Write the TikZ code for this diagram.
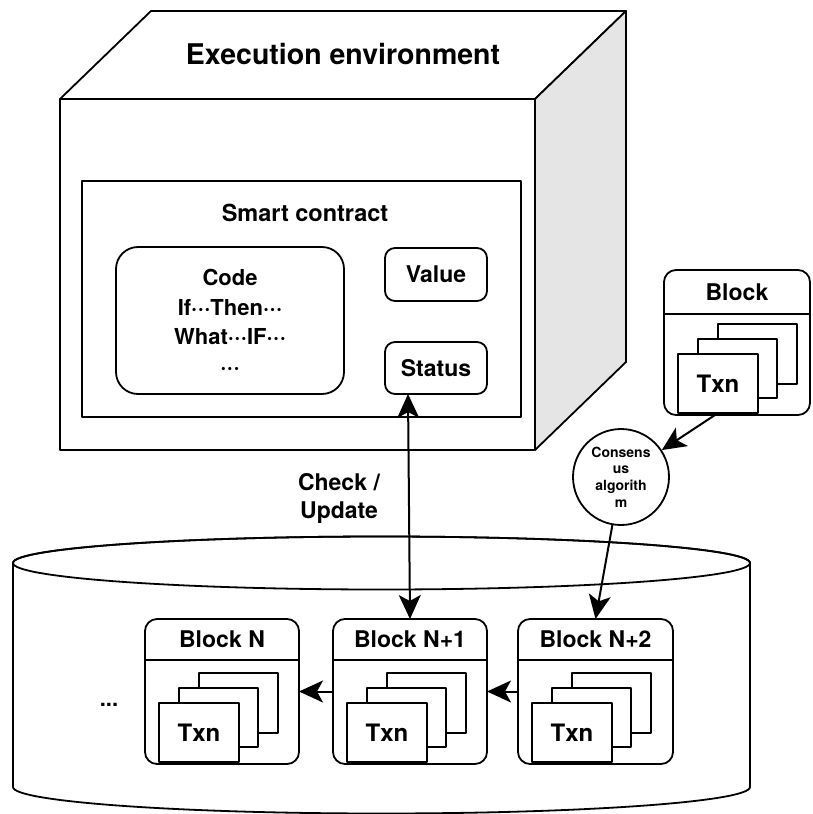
\documentclass[tikz,border=0pt]{standalone}
\usepackage{fontspec}
\setmainfont{TeX Gyre Heros}
\usetikzlibrary{arrows.meta,calc}

% three raised dots
\newcommand\tdots{·\kern0.02em·\kern0.02em·}

\tikzset{
  ln/.style={line width=1.8pt, draw=black, line join=round},
  box/.style={ln, fill=white, inner sep=0pt, outer sep=0pt},
  lbl/.style={font=\fontsize{22}{29.5}\selectfont\bfseries, align=center, inner sep=0pt},
  txn/.style={box, minimum width=79pt, minimum height=59pt, anchor=north west},
  conn/.style={line width=2pt, -{Stealth[length=24pt,width=22pt,inset=6pt]}},
  connboth/.style={line width=2pt,
    {Stealth[length=24pt,width=22pt,inset=6pt]}-{Stealth[length=24pt,width=22pt,inset=6pt]}},
}

% a block with a title bar and a stack of transactions
% #1 name, #2 x, #3 y, #4 title, #5 width, #6 title bar height
\newcommand\chainblock[6]{%
  \begin{scope}[shift={(#2,#3)}]
    \node[box, rounded corners=12pt, minimum width=#5pt, minimum height=145pt,
          anchor=north west] (#1) at (0,0) {};
    \draw[ln] (0,#6) -- (#5,#6);
    \node[lbl, font=\fontsize{23}{28}\selectfont\bfseries] (#1-title) at ({#5/2},{#6/2}) {#4};
    \node[txn, minimum height=60pt] (#1-t3) at (54,54) {};
    \node[txn] (#1-t2) at (34,69) {};
    \node[txn, minimum width=80pt, lbl, font=\fontsize{24}{28}\selectfont\bfseries]
          (#1-t1) at (14,84) {Txn};
  \end{scope}}

\begin{document}
\begin{tikzpicture}[x=1pt,y=-1pt]
\useasboundingbox (0,0) rectangle (812,814);

% execution environment: a box drawn in perspective
\draw[ln, fill=white] (60,99) -- (151,11) -- (626,11) -- (535,99) -- cycle;
\draw[ln, fill=black!10] (535,99) -- (626,11) -- (626,362) -- (535,450) -- cycle;
\node[box, minimum width=475pt, minimum height=351pt, anchor=north west] (env) at (60,99) {};
\node[lbl, font=\fontsize{28.5}{32}\selectfont\bfseries] (envtitle) at (343,54) {Execution environment};

% smart contract
\node[box, minimum width=439pt, minimum height=236pt, anchor=north west] (sc) at (82,181) {};
\node[lbl, font=\fontsize{23.5}{28}\selectfont\bfseries] (sctitle) at (305,213) {Smart contract};
\node[box, rounded corners=22pt, minimum width=228pt, minimum height=147pt,
      anchor=north west] (code) at (116,247) {};
\node[lbl] (codetext) at (230,322) {Code\\If\tdots Then\tdots\\What\tdots IF\tdots\\\tdots};
\node[box, rounded corners=10pt, minimum width=102pt, minimum height=53pt,
      anchor=north west, lbl, font=\fontsize{23}{28}\selectfont\bfseries] (value) at (385,248) {Value};
\node[box, rounded corners=10pt, minimum width=102pt, minimum height=52pt,
      anchor=north west, lbl, font=\fontsize{23}{28}\selectfont\bfseries] (status) at (385,342) {Status};

% ledger store
\draw[ln, fill=white] (13,563) -- (13,787)
  arc[start angle=180, end angle=360, x radius=368.5pt, y radius=26.5pt]
  -- (750,563)
  arc[start angle=0, end angle=180, x radius=368.5pt, y radius=26.5pt] -- cycle;
\draw[ln] (381.5,563) ellipse [x radius=368.5pt, y radius=26.5pt];

% blocks
\chainblock{blk}{664}{270}{Block}{146}{44}
\chainblock{n0}{145}{619}{Block N}{154}{41}
\chainblock{n1}{333}{619}{Block N+1}{154}{41}
\chainblock{n2}{518}{619}{Block N+2}{155}{41}

\node[lbl, anchor=base] (more) at (109,706) {...};

% consensus
\node[ln, circle, fill=white, minimum size=96pt, inner sep=0pt, align=center,
      font=\fontsize{14}{16.7}\selectfont\bfseries] (cons) at (621,477)
      {Consens\\us\\algorith\\m};

\node[lbl, font=\fontsize{23}{28}\selectfont\bfseries] (chk) at (339,498) {Check /\\Update};

% connectors
\draw[conn] (n1.west) -- (n0.east);
\draw[conn] (n2.west) -- (n1.east);
\draw[connboth] ($(status.south west)+(23,0)$) -- (n1.north);
\draw[conn] (blk-t1.south) -- (cons);
\draw[conn] (cons) -- (n2.north);
\end{tikzpicture}
\end{document}
